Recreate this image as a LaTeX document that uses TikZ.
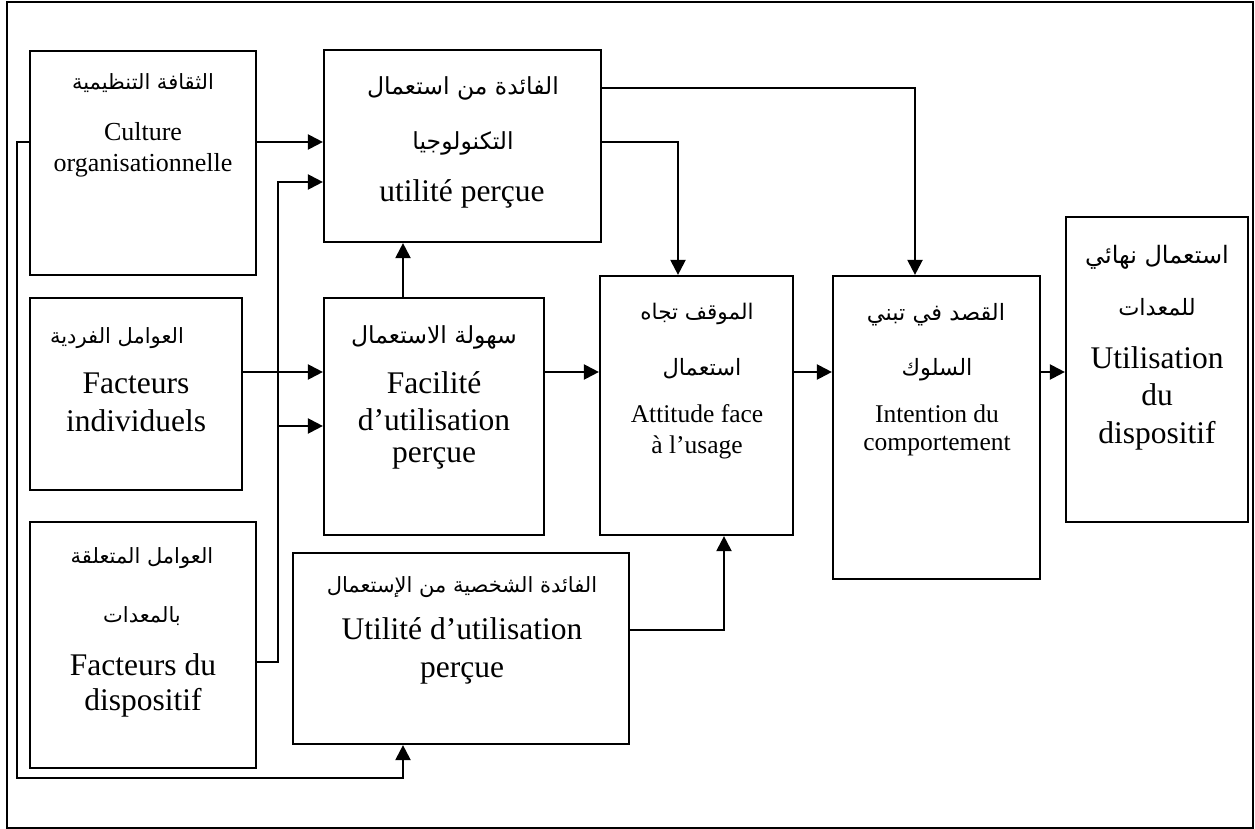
\documentclass[tikz,border=0pt]{standalone}
\usepackage{fontspec}
\setmainfont{Liberation Serif}
\newfontfamily\arabicfont[Script=Arabic]{DejaVu Sans}
\TeXXeTstate=1
\usetikzlibrary{arrows.meta}

\begin{document}
\begin{tikzpicture}[x=1pt, y=-1pt,
  box/.style={draw, line width=2.2pt, inner sep=0pt},
  arr/.style={line width=2.2pt, -{Triangle[length=15pt,width=15pt]}},
  lat/.style={anchor=base, inner sep=0pt},
  ar/.style={anchor=base, inner sep=0pt, font=\arabicfont\fontsize{21}{24}\selectfont},
  arbig/.style={anchor=base, inner sep=0pt, font=\arabicfont\fontsize{22.5}{26}\selectfont},
  fA/.style={font=\fontsize{26}{30}\selectfont},
  fB/.style={font=\fontsize{31.5}{36}\selectfont},
  fC/.style={font=\fontsize{25.5}{30}\selectfont}]

\useasboundingbox (0,0) rectangle (1255,829);
% outer frame
\draw[line width=2.2pt] (7,2) rectangle (1253,828);

% boxes
\node[box, minimum width=226pt, minimum height=224pt] (cult)  at (143,163)   {};
\node[box, minimum width=277pt, minimum height=192pt] (util)  at (462.5,146) {};
\node[box, minimum width=212pt, minimum height=192pt] (indiv) at (136,394)   {};
\node[box, minimum width=226pt, minimum height=246pt] (disp)  at (143,645)   {};
\node[box, minimum width=220pt, minimum height=237pt] (facil) at (434,416.5) {};
\node[box, minimum width=336pt, minimum height=191pt] (perso) at (461,648.5) {};
\node[box, minimum width=193pt, minimum height=259pt] (atti)  at (696.5,405.5) {};
\node[box, minimum width=207pt, minimum height=303pt] (inten) at (936.5,427.5) {};
\node[box, minimum width=182pt, minimum height=305pt] (usage) at (1157,369.5) {};

% texts: organisational culture
\node[ar] (cultA) at (143,90) {\beginR الثقافة التنظيمية\endR};
\node[lat, fA] (cultB) at (143,141) {Culture};
\node[lat, fA] (cultC) at (143,172) {organisationnelle};

% perceived usefulness
\node[arbig, font=\arabicfont\fontsize{23.5}{26}\selectfont] (utilA) at (463,95) {\beginR الفائدة من استعمال\endR};
\node[arbig, font=\arabicfont\fontsize{23.5}{26}\selectfont] (utilB) at (463,150) {\beginR التكنولوجيا\endR};
\node[lat, fB] (utilC) at (462,202) {utilité perçue};

% individual factors
\node[ar] (indivA) at (117,343) {\beginR العوامل الفردية\endR};
\node[lat, fB] (indivB) at (136,393) {Facteurs};
\node[lat, fB] (indivC) at (136,431) {individuels};

% device factors
\node[ar] (dispA) at (142,563) {\beginR العوامل المتعلقة\endR};
\node[ar] (dispB) at (142,622) {\beginR بالمعدات\endR};
\node[lat, fB] (dispC) at (143,675) {Facteurs du};
\node[lat, fB] (dispD) at (143,710) {dispositif};

% perceived ease of use
\node[ar, font=\arabicfont\fontsize{23.5}{26}\selectfont] (facilA) at (434,343) {\beginR سهولة الاستعمال\endR};
\node[lat, fB] (facilB) at (434,393) {Facilité};
\node[lat, fB] (facilC) at (434,430) {d’utilisation};
\node[lat, fB] (facilD) at (434,462) {perçue};

% personal usefulness
\node[ar] (persoA) at (462,592) {\beginR الفائدة الشخصية من الإستعمال\endR};
\node[lat, fB] (persoB) at (462,639) {Utilité d’utilisation};
\node[lat, fB] (persoC) at (462,677) {perçue};

% attitude
\node[arbig, font=\arabicfont\fontsize{21.5}{24}\selectfont] (attiA) at (697,319) {\beginR الموقف تجاه\endR};
\node[arbig] (attiB) at (702,375) {\beginR استعمال\endR};
\node[lat, fC] (attiC) at (697,422) {Attitude face};
\node[lat, fC] (attiD) at (697,453) {à l’usage};

% intention
\node[arbig] (intenA) at (936,320) {\beginR القصد في تبني\endR};
\node[arbig] (intenB) at (937,375) {\beginR السلوك\endR};
\node[lat, fC] (intenC) at (937,422) {Intention du};
\node[lat, fC] (intenD) at (937,450) {comportement};

% actual use
\node[arbig, font=\arabicfont\fontsize{24}{26}\selectfont] (usageA) at (1157,263) {\beginR استعمال نهائي\endR};
\node[arbig] (usageB) at (1157,315) {\beginR للمعدات\endR};
\node[lat, fB] (usageC) at (1157,368) {Utilisation};
\node[lat, fB] (usageD) at (1157,405) {du};
\node[lat, fB] (usageE) at (1157,443) {dispositif};

% routing points
\coordinate (busTop) at (278,182);
\coordinate (busMid) at (278,426);
\coordinate (busBot) at (278,662);
\coordinate (loopTop) at (17,142);
\coordinate (loopBot) at (17,778);
\coordinate (loopEnd) at (403,778);
\coordinate (upEase) at (403,298);
\coordinate (toAtt) at (678,142);
\coordinate (toInt) at (915,88);
\coordinate (fromPerso) at (724,630);

% connectors
\draw[arr] (cult.east |- loopTop) -- (util.west |- loopTop);
\draw[arr] (disp.east |- busBot) -- (busBot) -- (busTop) -- (util.west |- busTop);
\draw[arr] (busMid) -- (facil.west |- busMid);
\draw[arr] (indiv.east |- 0,372) -- (facil.west |- 0,372);
\draw[arr] (cult.west |- loopTop) -- (loopTop) -- (loopBot) -- (loopEnd) -- (perso.south -| loopEnd);
\draw[arr] (facil.north -| upEase) -- (util.south -| upEase);
\draw[arr] (facil.east |- 0,372) -- (atti.west |- 0,372);
\draw[arr] (util.east |- toAtt) -- (toAtt) -- (atti.north -| toAtt);
\draw[arr] (util.east |- toInt) -- (toInt) -- (inten.north -| toInt);
\draw[arr] (perso.east |- fromPerso) -- (fromPerso) -- (atti.south -| fromPerso);
\draw[arr] (atti.east |- 0,372) -- (inten.west |- 0,372);
\draw[arr] (inten.east |- 0,372) -- (usage.west |- 0,372);
\end{tikzpicture}
\end{document}
